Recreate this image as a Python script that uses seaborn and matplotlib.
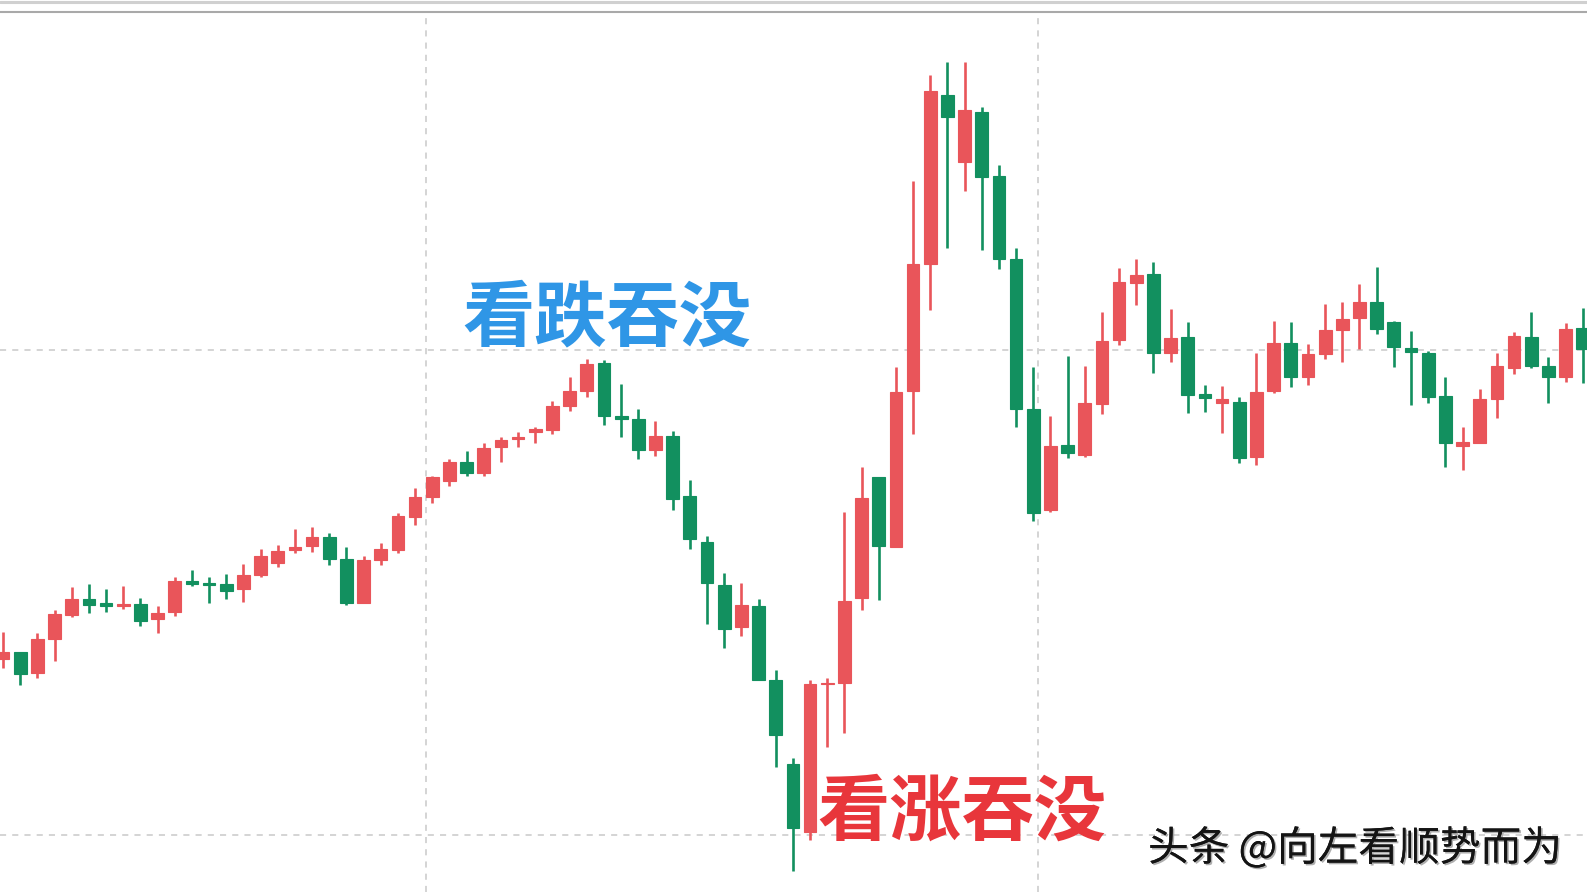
import numpy as np
import pandas as pd
import seaborn as sns
import matplotlib.pyplot as plt
import matplotlib.patheffects as pe

# OHLC (arbitrary price units, no axis labels in the source)
open_ = [23.3, 24.0, 21.9, 25.3, 27.7, 29.3, 28.9, 28.6, 28.8, 27.3,
         28.0, 31.1, 30.9, 30.8, 30.3, 31.7, 32.9, 34.2, 34.6, 35.5,
         33.3, 28.9, 33.2, 34.2, 37.5, 39.5, 41.1, 43.0, 41.9, 44.5,
         45.3, 46.0, 46.2, 48.6, 50.1, 52.9, 47.6, 47.3, 44.2, 45.6,
         39.6, 35.0, 30.7, 26.5, 28.6, 21.2, 12.8, 6.0, 20.8, 20.9,
         29.4, 41.5, 34.5, 50.1, 62.8, 79.7, 73.0, 78.0, 71.6, 63.3,
         48.3, 38.2, 44.7, 43.7, 48.8, 55.2, 60.9, 61.8, 53.9, 55.5,
         49.8, 48.9, 49.0, 43.5, 50.1, 54.9, 51.5, 53.8, 56.2, 57.4,
         59.0, 57.0, 54.4, 53.9, 49.6, 44.6, 44.9, 49.3, 52.4, 55.5,
         52.6, 51.5, 56.4]
close = [24.0, 21.8, 25.3, 27.8, 29.3, 28.7, 28.6, 28.8, 27.1, 27.9,
         31.1, 30.8, 30.7, 30.1, 31.7, 33.6, 34.1, 34.5, 35.5, 33.3,
         28.9, 33.2, 34.3, 37.6, 39.5, 41.5, 43.0, 41.9, 44.4, 45.2,
         45.5, 46.3, 48.6, 50.1, 52.8, 47.6, 47.3, 44.2, 45.6, 39.3,
         35.3, 30.9, 26.3, 28.7, 21.2, 15.7, 6.4, 20.8, 20.9, 29.1,
         39.4, 34.6, 50.0, 62.8, 80.1, 77.5, 78.2, 71.5, 63.3, 48.3,
         37.9, 44.6, 43.9, 48.9, 55.1, 61.0, 61.7, 53.9, 55.4, 49.7,
         49.4, 49.3, 43.4, 50.0, 54.9, 51.5, 53.8, 56.2, 57.3, 59.0,
         56.3, 54.5, 54.0, 49.5, 44.9, 45.0, 49.3, 52.6, 55.6, 52.6,
         51.5, 56.3, 54.3]
high = [26.0, 24.0, 25.9, 28.2, 30.5, 30.8, 30.3, 30.6, 29.4, 28.6,
        31.5, 32.2, 31.5, 31.8, 32.8, 34.3, 34.7, 36.3, 36.5, 35.9,
        34.5, 33.6, 34.9, 37.9, 40.4, 41.6, 43.3, 44.1, 44.9, 45.5,
        46.0, 46.5, 49.1, 51.5, 53.3, 53.2, 50.8, 48.3, 47.1, 46.1,
        41.2, 35.6, 31.9, 30.9, 29.3, 22.2, 13.4, 21.2, 21.4, 38.0,
        42.5, 41.5, 52.5, 71.1, 81.7, 83.0, 83.0, 78.5, 72.7, 64.4,
        52.5, 47.6, 53.6, 52.6, 58.0, 62.4, 63.3, 63.0, 58.3, 57.0,
        50.7, 50.6, 49.5, 53.9, 57.1, 57.0, 54.8, 58.8, 59.0, 60.8,
        62.5, 57.1, 56.1, 54.1, 51.5, 46.5, 50.3, 53.9, 56.0, 58.0,
        53.5, 56.9, 58.4]
low = [22.4, 20.7, 21.4, 23.1, 27.5, 27.9, 28.0, 28.3, 26.6, 25.9,
       27.6, 30.6, 28.9, 29.3, 29.0, 31.5, 32.5, 33.9, 34.0, 32.7,
       28.7, 28.9, 32.7, 33.9, 36.7, 38.9, 40.6, 41.6, 41.6, 43.0,
       44.5, 44.9, 45.8, 48.1, 49.5, 46.7, 45.5, 43.3, 43.6, 38.2,
       34.3, 26.8, 24.4, 25.6, 21.2, 12.5, 2.1, 5.2, 14.5, 15.9,
       28.2, 29.2, 34.5, 45.8, 58.2, 64.4, 70.1, 64.2, 62.3, 46.5,
       37.1, 38.0, 43.4, 43.5, 47.8, 54.7, 58.7, 51.9, 53.0, 47.9,
       48.0, 45.9, 42.9, 42.7, 49.9, 50.5, 50.7, 53.3, 53.0, 54.3,
       55.8, 52.5, 48.7, 48.9, 42.5, 42.2, 44.9, 47.4, 51.8, 52.4,
       48.9, 51.0, 50.9]

up_color = '#e9555a'
down_color = '#12905f'

df = pd.DataFrame({'open': open_, 'high': high, 'low': low, 'close': close})
df['i'] = np.arange(len(df))
df['color'] = np.where(df['close'] > df['open'], up_color, down_color)

sns.set_theme(style="white")
plt.rcParams['font.family'] = ['Noto Sans CJK SC', 'DejaVu Sans']

fig = plt.figure(figsize=(15.87, 8.92), dpi=100)
ax = fig.add_axes([0, 0, 1, 1])

# wicks then bodies
ax.vlines(df['i'], df['low'], df['high'], colors=df['color'], linewidth=1.9, zorder=3)
body_bottom = np.minimum(df['open'], df['close'])
body_height = np.abs(df['close'] - df['open'])
ax.bar(df['i'], body_height, bottom=body_bottom, width=0.74,
       color=df['color'], edgecolor=df['color'], linewidth=0.8, zorder=4)

ax.set_xlim(-0.175, 92.25)
ax.set_ylim(0, 89.2)

# dashed grid
for gx in [24.64, 60.25]:
    ax.axvline(gx, ymax=0.986, color='#c9c9c9', linewidth=1.1, linestyle=(0, (4, 4)), zorder=1)
for gy in [54.2, 5.7]:
    ax.axhline(gy, color='#c9c9c9', linewidth=1.1, linestyle=(0, (4, 4)), zorder=1)

# top border lines
ax.axhline(89.05, color='#d0d0d0', linewidth=2.2, zorder=2)
ax.axhline(88.0, color='#a9a9a9', linewidth=1.5, zorder=2)

for s in ax.spines.values():
    s.set_visible(False)
ax.set_xticks([])
ax.set_yticks([])

ax.text(0.2911, 0.6423, '看跌吞没', transform=ax.transAxes, ha='left', va='center',
        fontsize=52, fontweight='bold', color='#2f96e6', zorder=6)
ax.text(0.5148, 0.0883, '看涨吞没', transform=ax.transAxes, ha='left', va='center',
        fontsize=52, fontweight='bold', color='#e8363b', zorder=6)
ax.text(0.7234, 0.0490, '头条 @向左看顺势而为', transform=ax.transAxes, ha='left', va='center',
        fontsize=29.3, color='#141414', zorder=6,
        path_effects=[pe.withSimplePatchShadow(offset=(1.2, -1.2), shadow_rgbFace='#9a9a9a', alpha=0.8),
                      pe.Normal()])

fig.savefig('out.png', dpi=100)
plt.close(fig)
